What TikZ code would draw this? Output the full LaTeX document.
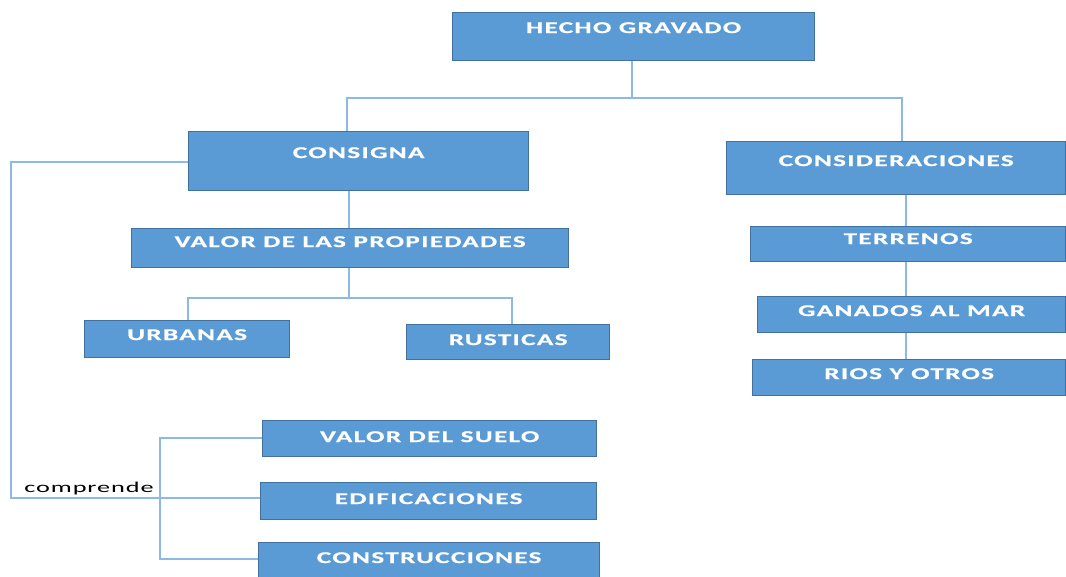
\documentclass[tikz,border=0pt]{standalone}
\usepackage{fontspec}
\newfontfamily\boxfont[FakeStretch=1.65,LetterSpace=8,FakeBold=0.6]{Carlito Bold}
\newfontfamily\lblfont[FakeStretch=1.75,LetterSpace=6]{Carlito}
\definecolor{boxfill}{HTML}{5B9BD5}
\definecolor{boxline}{HTML}{41719C}
\definecolor{connline}{HTML}{8DB9E5}
\tikzset{
  pbox/.style={draw=boxline, line width=1.3pt, fill=boxfill, text=white,
    font=\boxfont\fontsize{16.5}{18}\selectfont,
    anchor=north west, inner xsep=0pt, inner ysep=0pt},
  conn/.style={draw=connline, line width=2pt},
  lbl/.style={font=\lblfont\fontsize{15}{16}\selectfont, text=black, inner sep=0pt}
}
\begin{document}
\begin{tikzpicture}[x=1pt,y=-1pt]
\useasboundingbox (0,0) rectangle (1066,576);
\begin{scope}
\clip (0,0) rectangle (1066,576);
% boxes
\node[pbox, minimum width=362pt, text height=20.4pt, text depth=27.6pt] (hg) at (452,12) {HECHO GRAVADO};
\node[pbox, minimum width=340pt, text height=26.4pt, text depth=32.6pt] (cs) at (188,131) {CONSIGNA};
\node[pbox, minimum width=339pt, text height=24.4pt, text depth=28.6pt] (cd) at (726,141) {CONSIDERACIONES};
\node[pbox, minimum width=437pt, text height=18.4pt, text depth=20.6pt] (vp) at (131,228) {VALOR DE LAS PROPIEDADES};
\node[pbox, minimum width=205pt, text height=19.4pt, text depth=17.6pt] (ur) at (84,320) {URBANAS};
\node[pbox, minimum width=203pt, text height=20.4pt, text depth=14.6pt] (ru) at (406,324) {RUSTICAS};
\node[pbox, minimum width=315pt, text height=17.4pt, text depth=17.6pt] (te) at (750,226) {TERRENOS};
\node[pbox, minimum width=308pt, text height=19.4pt, text depth=16.6pt] (ga) at (757,296) {GANADOS AL MAR};
\node[pbox, minimum width=313pt, text height=19.4pt, text depth=16.6pt] (ri) at (752,359) {RIOS Y OTROS};
\node[pbox, minimum width=334pt, text height=21.4pt, text depth=14.6pt] (vs) at (262,420) {VALOR DEL SUELO};
\node[pbox, minimum width=336pt, text height=21.4pt, text depth=15.6pt] (ed) at (260,482) {EDIFICACIONES};
\node[pbox, minimum width=341pt, text height=20.4pt, text depth=18.6pt] (co) at (258,542) {CONSTRUCCIONES};
% junction coordinates
\coordinate (j1) at (632,98);
\coordinate (csT) at (347,131);
\coordinate (cdT) at (902,141);
\coordinate (j2) at (349,298);
\coordinate (urT) at (188,320);
\coordinate (ruT) at (512,324);
\coordinate (lx) at (11,0);
\coordinate (bx) at (160,0);
% connectors
\draw[conn] (hg.south -| j1) -- (j1);
\draw[conn] (csT) |- (j1) -| (cdT);
\draw[conn] (cs.south -| j2) -- (vp.north -| j2);
\draw[conn] (vp.south -| j2) -- (j2);
\draw[conn] (urT) |- (j2) -| (ruT);
\coordinate (rx) at (906,0);
\draw[conn] (cd.south -| rx) -- (te.north -| rx);
\draw[conn] (te.south -| rx) -- (ga.north -| rx);
\draw[conn] (ga.south -| rx) -- (ri.north -| rx);
\coordinate (csL) at (188,162);
\coordinate (edL) at (260,498);
\draw[conn] (csL) -- (csL -| lx) |- (edL);
\coordinate (vsL) at (262,438);
\coordinate (coL) at (258,559);
\draw[conn] (vsL) -- (vsL -| bx) |- (coL);
\node[lbl, anchor=base] (cp) at (89,492) {comprende};
\end{scope}
\end{tikzpicture}
\end{document}
